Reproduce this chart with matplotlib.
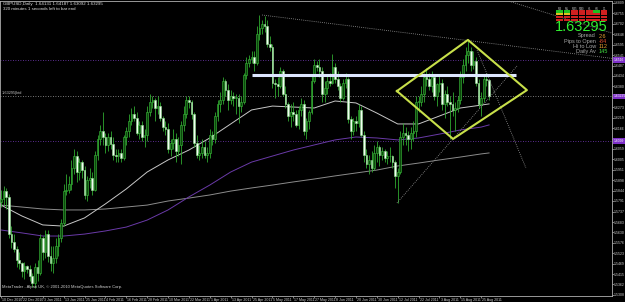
import matplotlib
matplotlib.use("Agg")
import matplotlib.pyplot as plt
from matplotlib.patches import Rectangle

# ---------------- data ----------------
label_bars = [0, 8, 16, 24, 32, 40, 48, 56, 64, 72, 80, 88, 96, 104, 112, 120,
              128, 136, 144, 152, 160, 168, 176, 184]
label_texts = ["10 Dec 2010", "22 Dec 2010", "3 Jan 2011", "13 Jan 2011", "25 Jan 2011",
               "4 Feb 2011", "16 Feb 2011", "28 Feb 2011", "10 Mar 2011", "22 Mar 2011",
               "1 Apr 2011", "13 Apr 2011", "25 Apr 2011", "5 May 2011", "17 May 2011",
               "27 May 2011", "8 Jun 2011", "20 Jun 2011", "30 Jun 2011", "12 Jul 2011",
               "22 Jul 2011", "3 Aug 2011", "15 Aug 2011", "25 Aug 2011"]

opens = [1.5785,1.5800,1.5840,1.5810,1.5620,1.5580,1.5545,1.5490,1.5470,1.5430,1.5455,1.5440,1.5405,1.5370,1.5450,1.5420,
         1.5600,1.5530,1.5620,1.5510,1.5470,1.5500,1.5560,1.5600,1.5680,1.5840,1.5850,1.5880,1.5960,1.6020,1.5940,1.5990,1.5950,1.5820,1.5900,1.5910,1.5850,
         1.6030,1.6110,1.6150,1.6120,1.6080,1.6120,1.6085,1.6030,1.6020,1.6040,1.6010,1.6120,1.6150,1.6200,1.6240,1.6220,1.6140,1.6180,1.6120,1.6130,
         1.6250,1.6300,1.6310,1.6270,1.6280,1.6220,1.6170,1.6160,1.6060,1.6090,1.6110,1.6050,1.6080,1.6180,1.6240,1.6310,1.6300,1.6240,1.6090,1.6030,1.6040,1.6070,1.6030,
         1.6040,1.6130,1.6110,1.6230,1.6290,1.6310,1.6410,1.6360,1.6310,1.6330,1.6320,1.6320,1.6280,1.6300,1.6440,1.6500,1.6520,1.6530,1.6500,1.6650,1.6680,
         1.6700,1.6690,1.6600,1.6580,1.6400,1.6390,1.6380,1.6460,1.6340,1.6290,1.6230,1.6250,1.6240,1.6180,1.6260,1.6290,1.6150,1.6200,1.6250,1.6410,1.6490,1.6480,
         1.6460,1.6340,1.6370,1.6410,1.6400,1.6480,1.6420,1.6380,1.6320,1.6400,1.6420,1.6210,1.6150,1.6200,1.6190,1.6260,1.6130,1.6030,1.5980,1.6000,1.5960,1.6040,
         1.6070,1.6030,1.6050,1.6010,1.6020,1.6020,1.5990,1.5920,1.5940,1.6120,1.6140,1.6130,1.6110,1.6140,1.6150,1.6300,1.6300,1.6340,1.6430,1.6420,1.6380,
         1.6430,1.6330,1.6390,1.6400,1.6290,1.6340,1.6300,1.6290,1.6260,1.6270,1.6310,1.6430,1.6490,1.6540,1.6560,1.6490,1.6510,1.6400,1.6290,1.6320,1.6420,1.64131]
highs = [1.5845,1.5870,1.5860,1.5825,1.5660,1.5620,1.5560,1.5530,1.5480,1.5480,1.5460,1.5460,1.5420,1.5470,1.5490,1.5620,
         1.5610,1.5640,1.5640,1.5560,1.5560,1.5600,1.5620,1.5700,1.5880,1.5930,1.5920,1.6000,1.6060,1.6050,1.6010,1.6000,1.5970,1.5920,1.5960,1.5940,1.6050,
         1.6130,1.6180,1.6250,1.6140,1.6140,1.6150,1.6120,1.6060,1.6060,1.6060,1.6130,1.6170,1.6240,1.6270,1.6280,1.6250,1.6200,1.6200,1.6160,1.6280,
         1.6340,1.6330,1.6320,1.6330,1.6300,1.6230,1.6200,1.6190,1.6110,1.6160,1.6140,1.6120,1.6200,1.6280,1.6330,1.6330,1.6310,1.6250,1.6130,1.6080,1.6110,1.6100,1.6070,
         1.6160,1.6150,1.6250,1.6310,1.6350,1.6430,1.6420,1.6390,1.6360,1.6350,1.6340,1.6340,1.6330,1.6450,1.6530,1.6540,1.6560,1.6560,1.6690,1.6747,1.6720,
         1.6740,1.6720,1.6640,1.6600,1.6420,1.6430,1.6480,1.6470,1.6380,1.6300,1.6290,1.6300,1.6260,1.6280,1.6320,1.6310,1.6220,1.6260,1.6440,1.6520,1.6510,1.6520,
         1.6480,1.6410,1.6440,1.6450,1.6545,1.6500,1.6460,1.6400,1.6420,1.6450,1.6430,1.6230,1.6220,1.6230,1.6290,1.6280,1.6150,1.6060,1.6030,1.6050,1.6080,1.6100,
         1.6080,1.6070,1.6060,1.6050,1.6070,1.6030,1.6000,1.5960,1.6150,1.6190,1.6170,1.6150,1.6170,1.6200,1.6330,1.6330,1.6380,1.6450,1.6475,1.6450,1.6460,
         1.6440,1.6400,1.6440,1.6420,1.6360,1.6380,1.6330,1.6350,1.6300,1.6330,1.6460,1.6520,1.6580,1.6618,1.6580,1.6560,1.6530,1.6420,1.6350,1.6440,1.6450,1.64187]
lows = [1.5760,1.5770,1.5750,1.5600,1.5550,1.5530,1.5450,1.5440,1.5400,1.5390,1.5420,1.5380,1.5350,1.5343,1.5380,1.5410,
        1.5490,1.5500,1.5480,1.5430,1.5420,1.5470,1.5510,1.5580,1.5660,1.5820,1.5830,1.5850,1.5930,1.5890,1.5900,1.5910,1.5800,1.5790,1.5860,1.5820,1.5840,
        1.6000,1.6080,1.6080,1.6040,1.6050,1.6060,1.6000,1.5990,1.5990,1.5990,1.6000,1.6080,1.6120,1.6180,1.6200,1.6130,1.6110,1.6100,1.6070,1.6100,
        1.6230,1.6270,1.6200,1.6240,1.6200,1.6150,1.6130,1.6040,1.6020,1.6060,1.5990,1.6020,1.5980,1.6150,1.6220,1.6270,1.6210,1.6070,1.6010,1.6000,1.6010,1.6010,1.5990,
        1.6010,1.6080,1.6090,1.6200,1.6250,1.6290,1.6330,1.6260,1.6290,1.6280,1.6240,1.6190,1.6250,1.6290,1.6420,1.6480,1.6500,1.6460,1.6490,1.6620,1.6650,
        1.6660,1.6580,1.6560,1.6370,1.6320,1.6330,1.6370,1.6330,1.6270,1.6200,1.6170,1.6200,1.6170,1.6160,1.6230,1.6130,1.6110,1.6160,1.6240,1.6400,1.6460,1.6430,
        1.6300,1.6300,1.6340,1.6380,1.6390,1.6400,1.6360,1.6300,1.6310,1.6370,1.6190,1.6110,1.6130,1.6150,1.6170,1.6120,1.5990,1.5960,1.5930,1.5940,1.5950,1.5990,
        1.5970,1.6000,1.5990,1.5980,1.5990,1.5960,1.5860,1.5780,1.5930,1.6080,1.6080,1.6050,1.6060,1.6100,1.6120,1.6250,1.6280,1.6300,1.6380,1.6360,1.6350,
        1.6310,1.6280,1.6350,1.6260,1.6220,1.6280,1.6110,1.6230,1.6150,1.6250,1.6290,1.6400,1.6460,1.6500,1.6460,1.6470,1.6380,1.6270,1.6230,1.6300,1.6380,1.63092]
closes = [1.5800,1.5840,1.5810,1.5620,1.5580,1.5545,1.5490,1.5470,1.5430,1.5455,1.5440,1.5405,1.5370,1.5450,1.5420,1.5600,
          1.5530,1.5620,1.5510,1.5470,1.5500,1.5560,1.5600,1.5680,1.5840,1.5850,1.5880,1.5960,1.6020,1.5940,1.5990,1.5950,1.5820,1.5900,1.5910,1.5850,1.6030,
          1.6110,1.6150,1.6120,1.6080,1.6120,1.6085,1.6030,1.6020,1.6040,1.6010,1.6120,1.6150,1.6200,1.6240,1.6220,1.6140,1.6180,1.6120,1.6130,1.6250,
          1.6300,1.6310,1.6270,1.6280,1.6220,1.6170,1.6160,1.6060,1.6090,1.6110,1.6050,1.6080,1.6180,1.6240,1.6310,1.6300,1.6240,1.6090,1.6030,1.6040,1.6070,1.6030,1.6040,
          1.6130,1.6110,1.6230,1.6290,1.6310,1.6410,1.6360,1.6310,1.6330,1.6320,1.6320,1.6280,1.6300,1.6440,1.6500,1.6520,1.6530,1.6500,1.6650,1.6680,1.6700,
          1.6690,1.6600,1.6580,1.6400,1.6390,1.6380,1.6460,1.6340,1.6290,1.6230,1.6250,1.6240,1.6180,1.6260,1.6290,1.6150,1.6200,1.6250,1.6410,1.6490,1.6480,1.6460,
          1.6340,1.6370,1.6410,1.6400,1.6480,1.6420,1.6380,1.6320,1.6400,1.6420,1.6210,1.6150,1.6200,1.6190,1.6260,1.6130,1.6030,1.5980,1.6000,1.5960,1.6040,1.6070,
          1.6030,1.6050,1.6010,1.6020,1.6020,1.5990,1.5920,1.5940,1.6120,1.6140,1.6130,1.6110,1.6140,1.6150,1.6300,1.6300,1.6340,1.6430,1.6420,1.6380,1.6430,
          1.6330,1.6390,1.6400,1.6290,1.6340,1.6300,1.6290,1.6260,1.6270,1.6310,1.6430,1.6490,1.6540,1.6560,1.6490,1.6510,1.6400,1.6290,1.6320,1.6420,1.64131,1.63295]

ma_bars = [0, 8, 16, 24, 32, 40, 48, 56, 64, 72, 80, 88, 96, 104, 112, 120,
           128, 136, 144, 152, 160, 168, 176, 184, 187]
ma_fast = [1.5770,1.5714,1.5668,1.5662,1.5704,1.5776,1.5853,1.5940,1.6002,1.6053,1.6115,1.6187,1.6259,
           1.6279,1.6274,1.6269,1.6305,1.6295,1.6243,1.6187,1.6187,1.6228,1.6269,1.6284,1.6290]
ma_slow = [1.5770,1.5760,1.5750,1.5745,1.5745,1.5750,1.5760,1.5770,1.5791,1.5806,1.5822,1.5842,1.5858,
           1.5873,1.5889,1.5904,1.5920,1.5935,1.5950,1.5971,1.5986,1.6002,1.6017,1.6033,1.6038]
ma_purple = [1.5642,1.5627,1.5611,1.5611,1.5621,1.5637,1.5657,1.5693,1.5745,1.5812,1.5873,1.5940,1.5991,
             1.6022,1.6053,1.6079,1.6105,1.6120,1.6115,1.6105,1.6115,1.6135,1.6156,1.6171,1.6182]

price_ticks = [1.6809,1.6755,1.6702,1.6648,1.6595,1.6541,1.6487,1.6434,1.6380,1.6327,1.6273,1.6219,
               1.6166,1.6112,1.6059,1.6005,1.5951,1.5898,1.5844,1.5791,1.5737,1.5683,1.5630,1.5576,
               1.5523,1.5469,1.5415,1.5362,1.5308]
hidden_ticks = [1.6327, 1.6112]

level_lines = [1.6516, 1.6099]
bid = 1.63295

diamond_x = [151.7, 178.9, 201.5, 173.2, 151.7]
diamond_y = [1.6356, 1.6619, 1.6361, 1.6110, 1.6356]
white_line_x = [96.2, 197.3]
white_line_y = [1.6439, 1.6439]
trend_lines = [([100.0, 234.1], [1.6747, 1.6524]),
               ([151.7, 197.7], [1.5781, 1.6485]),
               ([182.4, 201.1], [1.6567, 1.5961]),
               ([193.1, 234.1], [1.6824, 1.6654])]

panel_labels = ["Spread", "Pips to Open", "Hi to Low", "Daily Av"]
panel_values = ["2.6", "-84", "112", "145"]
panel_value_colors = ["#e8a030", "#e05030", "#e8a030", "#40e040"]
grid_colors = [["#20c020", "#20c020", "#d02020", "#d02020", "#d02020", "#20c020", "#d02020"],
               ["#e0c020", "#e0c020", "#d02020", "#d02020", "#d02020", "#d02020", "#d02020"],
               ["#d02020", "#d02020", "#d02020", "#d02020", "#d02020", "#d02020", "#d02020"],
               ["#d02020", "#d02020", "#d02020", "#d02020", "#d02020", "#d02020", "#d02020"]]
grid_cols = ["M1", "M5", "M15", "M30", "H1", "H4", "D1"]

# ---------------- figure ----------------
W, H = 625, 302
fig = plt.figure(figsize=(6.25, 3.02), dpi=100, facecolor="black")
ax = fig.add_axes([0, 6 / H, 612 / W, 295 / H], facecolor="black")
ax.set_xlim(-0.383, 234.1)
ax.set_ylim(1.53027, 1.68190)
for s in ax.spines.values():
    s.set_color("#b0b0b0")
    s.set_linewidth(0.6)

def fx(px):
    return px / W

def fy(py):
    return 1 - py / H

# level lines
for lv in level_lines:
    ax.axhline(lv, color="#7a3cc0", lw=0.6, ls=(0, (1, 2)), zorder=1)
ax.axhline(bid, color="#a0a0a0", lw=0.6, ls=(0, (1, 2)), zorder=1)

# moving averages
ax.plot(ma_bars, ma_slow, color="#8c8c8c", lw=0.7, zorder=2)
ax.plot(ma_bars, ma_purple, color="#6a3aa8", lw=0.7, zorder=2)
ax.plot(ma_bars, ma_fast, color="#c8c8c8", lw=0.7, zorder=2)

# candles
xs = list(range(len(closes)))
ax.vlines(xs, lows, highs, color="#2fa82f", lw=0.6, zorder=3)
for i in xs:
    o, c = opens[i], closes[i]
    lo, hi = min(o, c), max(o, c)
    if hi - lo < 0.0003:
        hi = lo + 0.0003
    if c >= o:
        fc, ec = "#0c4a0c", "#3cc03c"
    else:
        fc, ec = "#f0fff0", "#90e090"
    ax.add_patch(Rectangle((i - 0.33, lo), 0.66, hi - lo, facecolor=fc,
                           edgecolor=ec, lw=0.4, zorder=4))

# drawings
for tx, ty in trend_lines:
    ax.plot(tx, ty, color="#9a9a9a", lw=0.6, ls=(0, (1, 1.5)), zorder=5)
ax.plot(white_line_x, white_line_y, color="#dde6ff", lw=2.2, solid_capstyle="butt", zorder=6)
ax.plot(diamond_x, diamond_y, color="#c8e04a", lw=1.5, zorder=7)

# axes ticks
ax.yaxis.tick_right()
ax.set_yticks(price_ticks)
ax.set_yticklabels(["" if v in hidden_ticks else "%.4f" % v for v in price_ticks], fontsize=2.5,
                   color="#d0d0d0", family="Liberation Sans")
ax.tick_params(axis="y", length=1.2, width=0.5, color="#b0b0b0", pad=0.4)
ax.set_xticks(label_bars)
ax.set_xticklabels([])
ax.tick_params(axis="x", length=1.5, width=0.5, color="#b0b0b0", direction="out")
for b, t in zip(label_bars, label_texts):
    ax.text(b + 0.4, -0.006, t, transform=ax.get_xaxis_transform(), fontsize=2.6,
            color="#d0d0d0", ha="left", va="top", family="Liberation Sans")

# right-axis purple price labels
for lv in level_lines + [bid]:
    ax.text(1.0025, lv, "%.4f" % lv if lv != bid else "%.5f" % lv,
            transform=ax.get_yaxis_transform(), fontsize=2.4, color="white",
            ha="left", va="center", family="Liberation Sans", zorder=10,
            bbox=dict(boxstyle="square,pad=0.2", fc="#7d2fc8", ec="none"), clip_on=False)

# header texts
fig.text(fx(3), fy(4), "GBPUSD,Daily  1.64131 1.64187 1.63092 1.63295", fontsize=3.2,
         color="#e0e0e0", ha="left", va="center", family="Liberation Sans")
fig.text(fx(3), fy(9), "320 minutes 1 seconds left to bar end", fontsize=3.2,
         color="#e0e0e0", ha="left", va="center", family="Liberation Sans")
fig.text(fx(2), fy(287), "MetaTrader - Alpari UK, \u00a9 2001-2010 MetaQuotes Software Corp.",
         fontsize=3.0, color="#d0d0d0", ha="left", va="center", family="Liberation Sans")
fig.text(fx(2), fy(95), "1.63295|bid", fontsize=2.8, color="#c0c0c0",
         ha="left", va="bottom", family="Liberation Sans")

# info panel grid
cx0, cw, ry0, rh = 556, 7.4, 10, 2.8
for j, name in enumerate(grid_cols):
    fig.text(fx(cx0 + cw * (j + 0.5)), fy(ry0 - 1.5), name, fontsize=2.0, color="#c0c0c0",
             ha="center", va="center", family="Liberation Sans")
for r, row in enumerate(grid_colors):
    for j, col in enumerate(row):
        fig.add_artist(Rectangle((fx(cx0 + cw * j + 0.4), fy(ry0 + rh * (r + 1) - 0.3)),
                                 (cw - 0.8) / W, (rh - 0.6) / H, transform=fig.transFigure,
                                 facecolor=col, edgecolor="none"))
fig.text(fx(581), fy(27), "1.63295", fontsize=10.5, color="#30f030", ha="center",
         va="center", family="Liberation Sans")
for k, (lab, val, vc) in enumerate(zip(panel_labels, panel_values, panel_value_colors)):
    y = 36 + 5.2 * k
    fig.text(fx(596), fy(y), lab, fontsize=4.0, color="#a8a8a8", ha="right", va="center",
             family="Liberation Sans")
    fig.text(fx(599), fy(y), val, fontsize=4.0, color=vc, ha="left", va="center",
             family="Liberation Sans")

fig.savefig("out.png", dpi=100, facecolor="black")
